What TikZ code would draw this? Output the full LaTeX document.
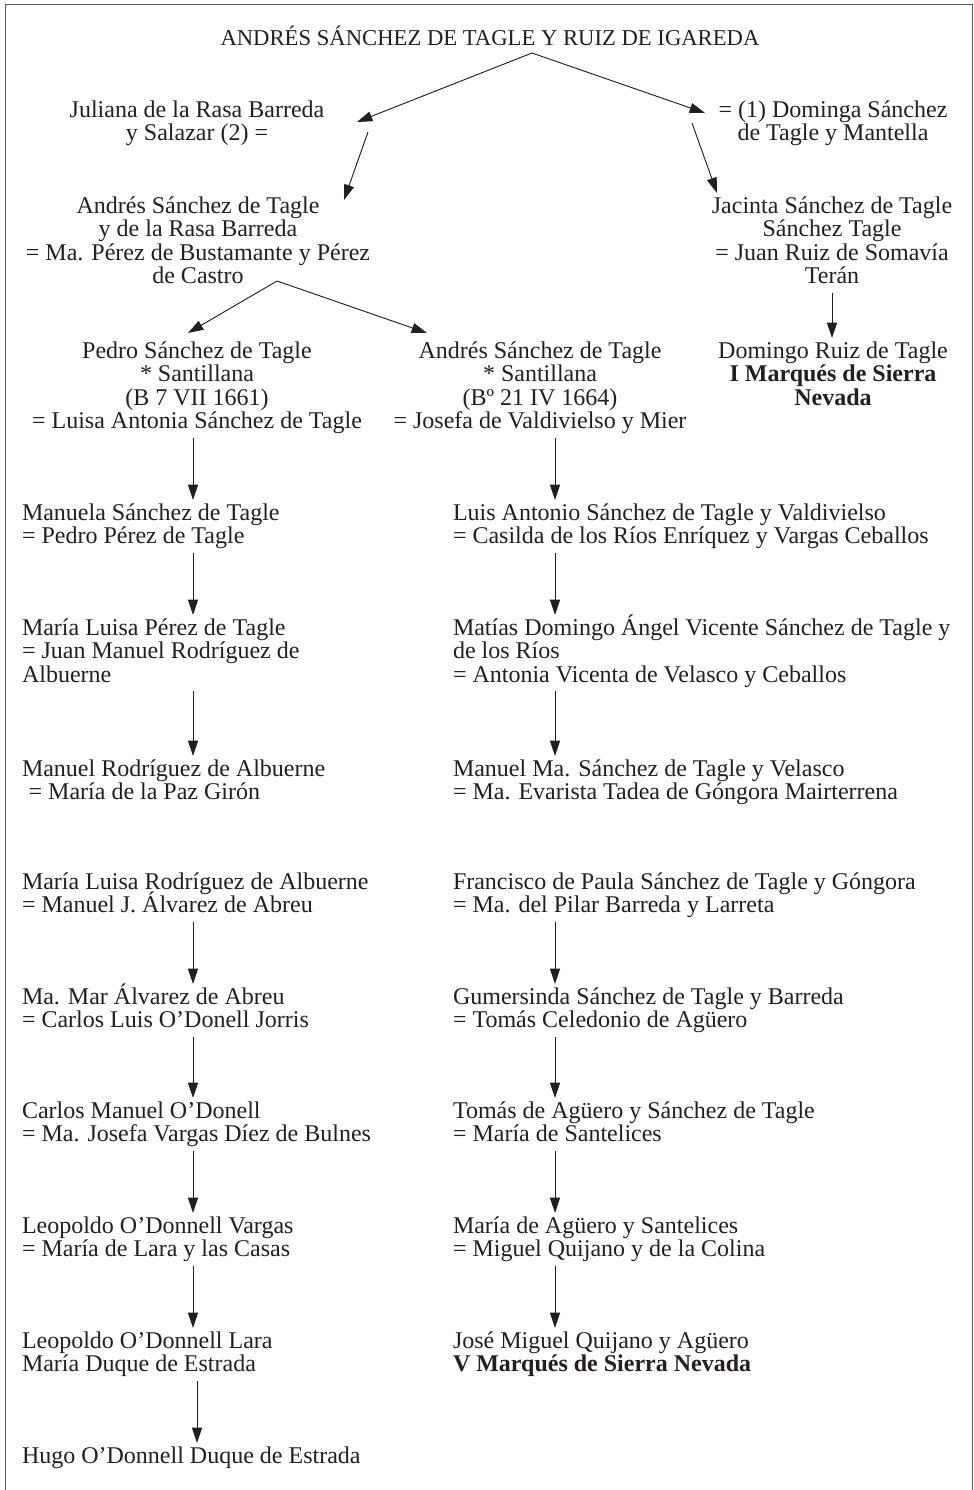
\documentclass[tikz,border=0pt]{standalone}
\usepackage{fontspec}
\setmainfont{Liberation Serif}
\usetikzlibrary{arrows.meta,calc}
\newcommand{\bodyfont}{\fontsize{18pt}{17.7pt}\selectfont\lineskiplimit=-100pt\lineskip=0pt}
\newcommand{\titlefont}{\fontsize{17pt}{17.7pt}\selectfont}
\definecolor{ink}{HTML}{231F20}
\definecolor{framegray}{HTML}{5A5A5A}
\tikzset{
  person/.style={inner sep=0pt, outer sep=0pt, font=\bodyfont, text=ink, text depth=3.75pt},
  Lone/.style={text height=12pt},
  Ltwo/.style={text height=29.7pt},
  Lthree/.style={text height=47.4pt},
  Lfour/.style={text height=65.1pt},
  lft/.style={person, align=left, anchor=north west},
  ctr/.style={person, align=center, anchor=north},
  arr/.style={draw=ink, line width=0.7pt, -{Triangle[length=11.5pt,width=7.5pt]}},
  varr/.style={arr, shorten <=3pt, shorten >=3pt},
  frame/.style={draw=framegray, line width=1.1pt}
}
\begin{document}
\begin{tikzpicture}[x=0.75pt, y=-0.75pt]
\useasboundingbox (0,0) rectangle (974,1490);
\draw[frame] (5.5,1492) -- (5.5,4.5) -- (972.5,4.5) -- (972.5,1492);

\coordinate (xl) at (193,0);
\coordinate (xh) at (197,0);
\coordinate (xr) at (555,0);
\coordinate (xm) at (832,0);

% top part (node tops = first baseline - 16)
\node[ctr, Lone, font=\titlefont] (title) at (490,29) {ANDRÉS SÁNCHEZ DE TAGLE Y RUIZ DE IGAREDA};
\node[ctr, Ltwo] (juliana) at (197,101) {Juliana de la Rasa Barreda\\y Salazar (2) =};
\node[ctr, Ltwo] (dominga) at (833,101) {= (1) Dominga Sánchez\\de Tagle y Mantella};
\node[ctr, Lfour] (andres2) at (198,197) {Andrés Sánchez de Tagle\\y de la Rasa Barreda\\= Ma. Pérez de Bustamante y Pérez\\de Castro};
\node[ctr, Lfour] (jacinta) at (832,197) {Jacinta Sánchez de Tagle\\Sánchez Tagle\\= Juan Ruiz de Somavía\\Terán};
\node[ctr, Lfour] (pedro) at (197,342) {Pedro Sánchez de Tagle\\* Santillana\\(B 7 VII 1661)\\= Luisa Antonia Sánchez de Tagle};
\node[ctr, Lfour] (andres3) at (540,342) {Andrés Sánchez de Tagle\\* Santillana\\(Bº 21 IV 1664)\\= Josefa de Valdivielso y Mier};
\node[ctr, Lthree] (domingo) at (833,342) {Domingo Ruiz de Tagle\\\textbf{I Marqués de Sierra}\\\textbf{Nevada}};

% left column
\node[lft, Ltwo] (manuela) at (22,504) {Manuela Sánchez de Tagle\\= Pedro Pérez de Tagle};
\node[lft, Lthree] (mluisa) at (22,619) {María Luisa Pérez de Tagle\\= Juan Manuel Rodríguez de\\Albuerne};
\node[lft, Ltwo] (manuelr) at (22,760) {Manuel Rodríguez de Albuerne\\\hspace*{5pt}= María de la Paz Girón};
\node[lft, Ltwo] (mluisar) at (22,873) {María Luisa Rodríguez de Albuerne\\= Manuel J. Álvarez de Abreu};
\node[lft, Ltwo] (mamar) at (22,988) {Ma. Mar Álvarez de Abreu\\= Carlos Luis O’Donell Jorris};
\node[lft, Ltwo] (carlos) at (22,1102) {Carlos Manuel O’Donell\\= Ma. Josefa Vargas Díez de Bulnes};
\node[lft, Ltwo] (leopoldo) at (22,1217) {Leopoldo O’Donnell Vargas\\= María de Lara y las Casas};
\node[lft, Ltwo] (leopoldol) at (22,1332) {Leopoldo O’Donnell Lara\\María Duque de Estrada};
\node[lft, Lone] (hugo) at (22,1447) {Hugo O’Donnell Duque de Estrada};

% right column
\node[lft, Ltwo] (luis) at (453,504) {Luis Antonio Sánchez de Tagle y Valdivielso\\= Casilda de los Ríos Enríquez y Vargas Ceballos};
\node[lft, Lthree] (matias) at (453,619) {Matías Domingo Ángel Vicente Sánchez de Tagle y\\de los Ríos\\= Antonia Vicenta de Velasco y Ceballos};
\node[lft, Ltwo] (manuelma) at (453,760) {Manuel Ma. Sánchez de Tagle y Velasco\\= Ma. Evarista Tadea de Góngora Mairterrena};
\node[lft, Ltwo] (francisco) at (453,873) {Francisco de Paula Sánchez de Tagle y Góngora\\= Ma. del Pilar Barreda y Larreta};
\node[lft, Ltwo] (gumersinda) at (453,988) {Gumersinda Sánchez de Tagle y Barreda\\= Tomás Celedonio de Agüero};
\node[lft, Ltwo] (tomas) at (453,1102) {Tomás de Agüero y Sánchez de Tagle\\= María de Santelices};
\node[lft, Ltwo] (maria) at (453,1217) {María de Agüero y Santelices\\= Miguel Quijano y de la Colina};
\node[lft, Ltwo] (jose) at (453,1332) {José Miguel Quijano y Agüero\\\textbf{V Marqués de Sierra Nevada}};

% slanted connectors
\draw[arr] ($(title.north)+(42,24)$) -- ($(juliana.north)+(160,21)$);
\draw[arr] ($(title.north)+(42,24)$) -- ($(dominga.north)+(-128,12)$);
\draw[arr] ($(juliana.north)+(171,31)$) -- ($(andres2.north)+(146,3)$);
\draw[arr] ($(dominga.north)+(-141,22)$) -- ($(jacinta.north)+(-115,-4)$);
\draw[arr] ($(andres2.north)+(79,84)$) -- ($(pedro.north)+(-9,-9)$);
\draw[arr] ($(andres2.north)+(79,84)$) -- ($(andres3.north)+(-113,-9)$);
\draw[varr] (jacinta.south -| xm) -- (domingo.north -| xm);

% left column connectors
\draw[varr] (pedro.south -| xl) -- (manuela.north -| xl);
\draw[varr] (manuela.south -| xl) -- (mluisa.north -| xl);
\draw[varr] (mluisa.south -| xl) -- (manuelr.north -| xl);
\draw[varr] (mluisar.south -| xl) -- (mamar.north -| xl);
\draw[varr] (mamar.south -| xl) -- (carlos.north -| xl);
\draw[varr] (carlos.south -| xl) -- (leopoldo.north -| xl);
\draw[varr] (leopoldo.south -| xl) -- (leopoldol.north -| xl);
\draw[varr] (leopoldol.south -| xh) -- (hugo.north -| xh);

% right column connectors
\draw[varr] (andres3.south -| xr) -- (luis.north -| xr);
\draw[varr] (luis.south -| xr) -- (matias.north -| xr);
\draw[varr] (matias.south -| xr) -- (manuelma.north -| xr);
\draw[varr] (francisco.south -| xr) -- (gumersinda.north -| xr);
\draw[varr] (gumersinda.south -| xr) -- (tomas.north -| xr);
\draw[varr] (tomas.south -| xr) -- (maria.north -| xr);
\draw[varr] (maria.south -| xr) -- (jose.north -| xr);
\end{tikzpicture}
\end{document}
